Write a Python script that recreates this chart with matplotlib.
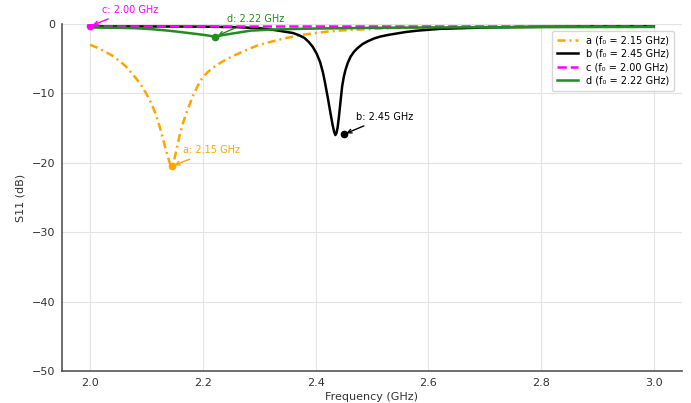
import matplotlib
matplotlib.use('Agg')
import matplotlib.pyplot as plt

# series (frequency in GHz, S11 in dB)
a_freq = [2.000, 2.014, 2.027, 2.040, 2.050, 2.062, 2.074, 2.083, 2.092, 2.100,
          2.107, 2.113, 2.118, 2.124, 2.130, 2.136, 2.141, 2.145, 2.149, 2.154,
          2.158, 2.163, 2.169, 2.175, 2.182, 2.189, 2.196, 2.204, 2.213, 2.222,
          2.238, 2.255, 2.270, 2.284, 2.300, 2.314, 2.343, 2.373, 2.400, 2.420,
          2.450, 2.500, 2.550, 2.600, 2.700, 2.800, 2.900, 3.000]
a_s11 = [-3.0, -3.45, -4.0, -4.6, -5.2, -6.0, -7.1, -8.0, -9.0, -10.1,
         -11.2, -12.3, -13.4, -15.0, -16.8, -18.6, -20.0, -20.6, -19.6, -17.8,
         -16.3, -14.7, -13.2, -11.9, -10.4, -9.2, -8.1, -7.3, -6.6, -6.05,
         -5.25, -4.55, -4.0, -3.5, -3.0, -2.7, -2.1, -1.6, -1.3, -1.1,
         -0.9, -0.7, -0.55, -0.5, -0.42, -0.38, -0.35, -0.33]

b_freq = [2.000, 2.100, 2.200, 2.260, 2.300, 2.330, 2.360, 2.370, 2.380, 2.388,
          2.395, 2.402, 2.408, 2.413, 2.417, 2.422, 2.426, 2.430, 2.433, 2.435,
          2.437, 2.439, 2.441, 2.444, 2.447, 2.450, 2.453, 2.457, 2.462, 2.468,
          2.474, 2.483, 2.492, 2.503, 2.515, 2.530, 2.545, 2.560, 2.580, 2.620,
          2.700, 2.800, 2.900, 3.000]
b_s11 = [-0.35, -0.35, -0.38, -0.45, -0.6, -0.9, -1.3, -1.6, -2.0, -2.6,
         -3.3, -4.3, -5.5, -7.0, -8.6, -10.8, -12.7, -14.5, -15.6, -16.0,
         -15.7, -14.9, -13.6, -11.3, -9.0, -7.6, -6.6, -5.6, -4.7, -4.0,
         -3.5, -2.9, -2.5, -2.1, -1.8, -1.55, -1.35, -1.15, -0.96, -0.7,
         -0.5, -0.4, -0.35, -0.33]

c_freq = [2.0, 2.5, 3.0]
c_s11 = [-0.28, -0.28, -0.28]

d_freq = [2.000, 2.050, 2.080, 2.110, 2.139, 2.160, 2.180, 2.200, 2.222, 2.235,
          2.254, 2.284, 2.320, 2.343, 2.400, 2.500, 2.600, 2.800, 3.000]
d_s11 = [-0.5, -0.55, -0.6, -0.75, -0.96, -1.15, -1.35, -1.55, -1.82, -1.6,
         -1.35, -0.96, -0.8, -0.75, -0.65, -0.55, -0.5, -0.45, -0.42]

labels = ['a (f\u2080 = 2.15 GHz)', 'b (f\u2080 = 2.45 GHz)',
          'c (f\u2080 = 2.00 GHz)', 'd (f\u2080 = 2.22 GHz)']

# marked resonance points and their notes
mark_f = [2.145, 2.450, 2.000, 2.222]
mark_s = [-20.5, -15.9, -0.3, -1.82]
mark_text = ['a: 2.15 GHz', 'b: 2.45 GHz', 'c: 2.00 GHz', 'd: 2.22 GHz']
text_pos = [(2.165, -18.2), (2.472, -13.4), (2.021, 2.0), (2.242, 0.7)]

colors = ['orange', 'black', 'magenta', 'forestgreen']
dash_pats = [(3.2, 1.6, 0.8, 1.6), None, (3.7, 1.6), None]

fig = plt.figure(figsize=(6.91, 4.03), dpi=100)
ax = fig.add_axes([0.0897, 0.0794, 0.8973, 0.861])

series = [(a_freq, a_s11), (b_freq, b_s11), (c_freq, c_s11), (d_freq, d_s11)]
for (f, s), lab, col, dp in zip(series, labels, colors, dash_pats):
    line, = ax.plot(f, s, color=col, lw=1.8, label=lab)
    if dp is not None:
        line.set_dashes(dp)

for f, s, t, pos, col in zip(mark_f, mark_s, mark_text, text_pos, colors):
    ax.plot(f, s, 'o', color=col, ms=4.5, zorder=5)
    ax.annotate(t, xy=(f, s), xytext=pos, color=col, fontsize=7,
                va='center', ha='left',
                arrowprops=dict(arrowstyle='->', color=col, lw=1))

ax.set_xlim(1.95, 3.05)
ax.set_ylim(-50, 0)
ax.set_xticks([2.0, 2.2, 2.4, 2.6, 2.8, 3.0])
ax.set_yticks([-50, -40, -30, -20, -10, 0])
ax.tick_params(labelsize=8, length=0, pad=5, colors='#333333')
ax.set_xlabel('Frequency (GHz)', fontsize=8, color='#333333', labelpad=3)
ax.set_ylabel('S11 (dB)', fontsize=8, color='#333333', labelpad=4)

for side in ['top', 'right']:
    ax.spines[side].set_visible(False)
for side in ['left', 'bottom']:
    ax.spines[side].set_color('#555555')
    ax.spines[side].set_linewidth(1.2)

ax.grid(True, color='#e3e3e3', lw=0.8)
ax.set_axisbelow(True)

ax.legend(loc='upper right', fontsize=7, handlelength=2.2, borderpad=0.5,
          labelspacing=0.35, bbox_to_anchor=(0.995, 0.995))

fig.savefig('out.png', dpi=100)
